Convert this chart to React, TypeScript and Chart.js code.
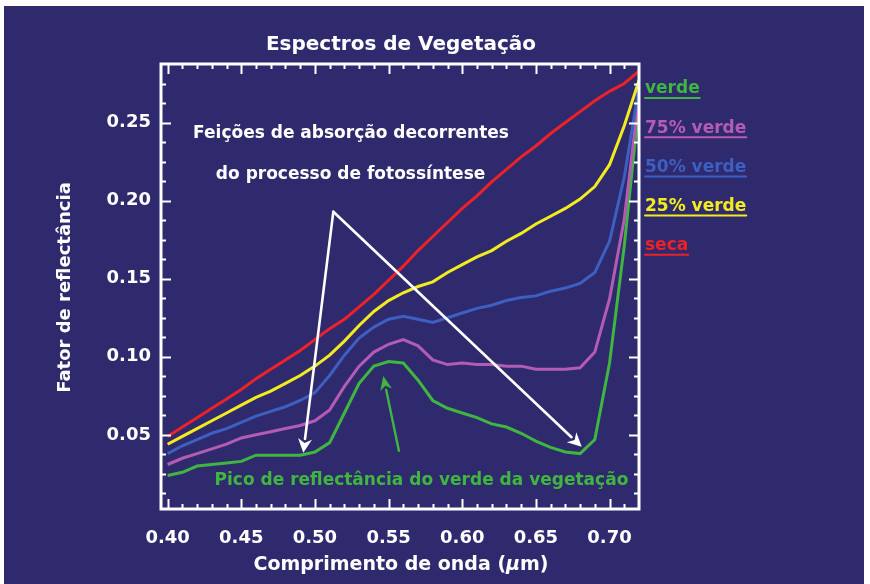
import React, { useEffect, useRef } from "react";
import { Chart, registerables } from "chart.js";

Chart.register(...registerables);

// ---- data ----
const wavelengths = [
  0.40, 0.41, 0.42, 0.43, 0.44, 0.45, 0.46, 0.47, 0.48, 0.49, 0.50,
  0.51, 0.52, 0.53, 0.54, 0.55, 0.56, 0.57, 0.58, 0.59, 0.60,
  0.61, 0.62, 0.63, 0.64, 0.65, 0.66, 0.67, 0.68, 0.69, 0.70, 0.71, 0.72,
];
const seca = [
  0.049, 0.055, 0.061, 0.067, 0.073, 0.079, 0.086, 0.092, 0.098, 0.104, 0.111,
  0.118, 0.124, 0.132, 0.140, 0.149, 0.158, 0.168, 0.177, 0.186, 0.195,
  0.203, 0.212, 0.220, 0.228, 0.235, 0.243, 0.250, 0.257, 0.264, 0.270, 0.275, 0.283,
];
const verde25 = [
  0.044, 0.049, 0.054, 0.059, 0.064, 0.069, 0.074, 0.078, 0.083, 0.088, 0.094,
  0.101, 0.110, 0.120, 0.129, 0.136, 0.141, 0.145, 0.148, 0.154, 0.159,
  0.164, 0.168, 0.174, 0.179, 0.185, 0.190, 0.195, 0.201, 0.209, 0.223, 0.248, 0.277,
];
const verde50 = [
  0.038, 0.043, 0.047, 0.051, 0.054, 0.058, 0.062, 0.065, 0.068, 0.072, 0.077,
  0.088, 0.101, 0.112, 0.119, 0.124, 0.126, 0.124, 0.122, 0.125, 0.128,
  0.131, 0.133, 0.136, 0.138, 0.139, 0.142, 0.144, 0.147, 0.154, 0.174, 0.215, 0.273,
];
const verde75 = [
  0.031, 0.035, 0.038, 0.041, 0.044, 0.048, 0.050, 0.052, 0.054, 0.056, 0.059,
  0.066, 0.081, 0.094, 0.103, 0.108, 0.111, 0.107, 0.098, 0.095, 0.096,
  0.095, 0.095, 0.094, 0.094, 0.092, 0.092, 0.092, 0.093, 0.103, 0.137, 0.188, 0.268,
];
const verde = [
  0.024, 0.026, 0.030, 0.031, 0.032, 0.033, 0.037, 0.037, 0.037, 0.037, 0.039,
  0.045, 0.064, 0.083, 0.094, 0.097, 0.096, 0.085, 0.072, 0.067, 0.064,
  0.061, 0.057, 0.055, 0.051, 0.046, 0.042, 0.039, 0.038, 0.047, 0.096, 0.171, 0.262,
];

const xTickValues = [0.40, 0.45, 0.50, 0.55, 0.60, 0.65, 0.70];
const yTickValues = [0.05, 0.10, 0.15, 0.20, 0.25];
const xMinorValues = [
  0.41, 0.42, 0.43, 0.44, 0.46, 0.47, 0.48, 0.49, 0.51, 0.52, 0.53, 0.54,
  0.56, 0.57, 0.58, 0.59, 0.61, 0.62, 0.63, 0.64, 0.66, 0.67, 0.68, 0.69, 0.71,
];
const yMinorValues = [
  0.0125, 0.025, 0.0375, 0.0625, 0.075, 0.0875, 0.1125, 0.125, 0.1375,
  0.1625, 0.175, 0.1875, 0.2125, 0.225, 0.2375, 0.2625, 0.275,
];

const seriesNames = ["seca", "25% verde", "50% verde", "75% verde", "verde"];
const seriesValues = [seca, verde25, verde50, verde75, verde];
const seriesColors = ["#ec2228", "#f2ec1e", "#3d5fc0", "#b45cb4", "#3fb63f"];

const legendOrder = ["verde", "75% verde", "50% verde", "25% verde", "seca"];

const TITLE = "Espectros de Vegetação";
const X_TITLE_PARTS = ["Comprimento de onda (", "\u03bc", "m)"];
const Y_TITLE = "Fator de reflectância";
const NOTE_ABSORPTION = ["Feições de absorção decorrentes", "do processo de fotossíntese"];
const NOTE_PEAK = "Pico de reflectância do verde da vegetação";

// annotation anchors in data units
const absorptionApex = { x: 0.5125, y: 0.1929 };
const absorptionTips = [
  { x: 0.4921, y: 0.0385 },
  { x: 0.6811, y: 0.0423 },
];
const peakArrow = { from: { x: 0.557, y: 0.0398 }, to: { x: 0.5464, y: 0.0876 } };
const noteAbsorptionPos = [
  { x: 0.5245, y: 0.2427 },
  { x: 0.5242, y: 0.2164 },
];
const notePeakPos = { x: 0.5723, y: 0.021 };

const NAVY = "rgb(47,42,110)";
const FONT = "'DejaVu Sans', Verdana, sans-serif";

function arrow(ctx: CanvasRenderingContext2D, x1: number, y1: number, x2: number, y2: number, color: string, lw: number, hl: number, hw: number) {
  const ang = Math.atan2(y2 - y1, x2 - x1);
  const bx = x2 - Math.cos(ang) * hl;
  const by = y2 - Math.sin(ang) * hl;
  ctx.strokeStyle = color;
  ctx.fillStyle = color;
  ctx.lineWidth = lw;
  ctx.lineCap = "round";
  ctx.beginPath();
  ctx.moveTo(x1, y1);
  ctx.lineTo(bx, by);
  ctx.stroke();
  ctx.beginPath();
  ctx.moveTo(x2, y2);
  ctx.lineTo(bx + Math.cos(ang + Math.PI / 2) * hw, by + Math.sin(ang + Math.PI / 2) * hw);
  ctx.lineTo(bx + Math.cos(ang) * hl * 0.3, by + Math.sin(ang) * hl * 0.3);
  ctx.lineTo(bx + Math.cos(ang - Math.PI / 2) * hw, by + Math.sin(ang - Math.PI / 2) * hw);
  ctx.closePath();
  ctx.fill();
}

const decorPlugin = {
  id: "decor",
  beforeDraw(chart: any) {
    const { ctx, width, height } = chart;
    ctx.save();
    ctx.fillStyle = "#ffffff";
    ctx.fillRect(0, 0, width, height);
    ctx.fillStyle = NAVY;
    ctx.fillRect(4, 6, width - 10, height - 6);
    ctx.restore();
  },
  afterDatasetsDraw(chart: any) {
    const { ctx, chartArea } = chart;
    const xs = chart.scales.x;
    const ys = chart.scales.y;
    const { left, right, top, bottom } = chartArea;
    ctx.save();

    // frame
    ctx.strokeStyle = "#ffffff";
    ctx.lineWidth = 3;
    ctx.strokeRect(left, top, right - left, bottom - top);

    // ticks on all sides, inward
    ctx.lineWidth = 2;
    ctx.beginPath();
    const tick = (vals: number[], len: number) => {
      vals.forEach((v) => {
        const px = Math.round(xs.getPixelForValue(v)) + 0.5;
        ctx.moveTo(px, bottom);
        ctx.lineTo(px, bottom - len);
        ctx.moveTo(px, top);
        ctx.lineTo(px, top + len);
      });
    };
    const ytick = (vals: number[], len: number) => {
      vals.forEach((v) => {
        const py = Math.round(ys.getPixelForValue(v)) + 0.5;
        ctx.moveTo(left, py);
        ctx.lineTo(left + len, py);
        ctx.moveTo(right, py);
        ctx.lineTo(right - len, py);
      });
    };
    tick(xTickValues, 10);
    tick(xMinorValues, 5);
    ytick(yTickValues, 10);
    ytick(yMinorValues, 5);
    ctx.stroke();

    // arrows
    const ax = xs.getPixelForValue(absorptionApex.x);
    const ay = ys.getPixelForValue(absorptionApex.y);
    absorptionTips.forEach((t) => {
      arrow(ctx, ax, ay, xs.getPixelForValue(t.x), ys.getPixelForValue(t.y), "#ffffff", 2.6, 14, 7);
    });
    arrow(
      ctx,
      xs.getPixelForValue(peakArrow.from.x),
      ys.getPixelForValue(peakArrow.from.y),
      xs.getPixelForValue(peakArrow.to.x),
      ys.getPixelForValue(peakArrow.to.y),
      seriesColors[4],
      2.4,
      14,
      6
    );

    // notes
    ctx.textAlign = "center";
    ctx.textBaseline = "middle";
    ctx.font = `bold 17px ${FONT}`;
    ctx.fillStyle = "#ffffff";
    NOTE_ABSORPTION.forEach((t, i) => {
      ctx.fillText(t, xs.getPixelForValue(noteAbsorptionPos[i].x), ys.getPixelForValue(noteAbsorptionPos[i].y));
    });
    ctx.fillStyle = seriesColors[4];
    ctx.fillText(NOTE_PEAK, xs.getPixelForValue(notePeakPos.x), ys.getPixelForValue(notePeakPos.y));

    // legend labels on the right
    ctx.textAlign = "left";
    ctx.font = `bold 17px ${FONT}`;
    legendOrder.forEach((name, i) => {
      const idx = seriesNames.indexOf(name);
      const color = seriesColors[idx];
      const y = 89 + i * 39.2;
      const x = right + 6;
      ctx.fillStyle = color;
      ctx.fillText(name, x, y);
      const w = ctx.measureText(name).width;
      ctx.strokeStyle = color;
      ctx.lineWidth = 2;
      ctx.beginPath();
      ctx.moveTo(x, y + 9);
      ctx.lineTo(x + w, y + 9);
      ctx.stroke();
    });

    // title
    ctx.fillStyle = "#ffffff";
    ctx.textAlign = "center";
    ctx.font = `bold 20px ${FONT}`;
    ctx.fillText(TITLE, (left + right) / 2 + 1, 45);

    // x title with italic mu
    const fontsX = [`bold 19px ${FONT}`, `italic bold 19px ${FONT}`, `bold 19px ${FONT}`];
    const widths = X_TITLE_PARTS.map((p, i) => {
      ctx.font = fontsX[i];
      return ctx.measureText(p).width;
    });
    const total = widths.reduce((a, b) => a + b, 0);
    let cx = (left + right) / 2 + 1 - total / 2;
    ctx.textAlign = "left";
    X_TITLE_PARTS.forEach((p, i) => {
      ctx.font = fontsX[i];
      ctx.fillText(p, cx, 565);
      cx += widths[i];
    });

    // y title
    ctx.save();
    ctx.translate(65, (top + bottom) / 2 + 1);
    ctx.rotate(-Math.PI / 2);
    ctx.textAlign = "center";
    ctx.font = `bold 18px ${FONT}`;
    ctx.fillText(Y_TITLE, 0, 0);
    ctx.restore();

    ctx.restore();
  },
};

export default function App() {
  const canvasRef = useRef<HTMLCanvasElement | null>(null);

  useEffect(() => {
    const canvas = canvasRef.current;
    if (!canvas) return;
    const chart = new Chart(canvas, {
      type: "line",
      data: {
        datasets: seriesNames.map((name, i) => ({
          label: name,
          data: wavelengths.map((w, j) => ({ x: w, y: seriesValues[i][j] })),
          borderColor: seriesColors[i],
          backgroundColor: seriesColors[i],
          borderWidth: 3,
          pointRadius: 0,
          tension: 0,
          fill: false,
        })),
      },
      options: {
        animation: false,
        responsive: false,
        devicePixelRatio: 1,
        layout: { padding: { left: 0, top: 64, right: 231, bottom: 0 } },
        plugins: {
          legend: { display: false },
          title: { display: false },
          tooltip: { enabled: false },
        },
        scales: {
          x: {
            type: "linear",
            min: 0.3955,
            max: 0.72,
            grid: { display: false, drawTicks: false },
            border: { display: false },
            afterBuildTicks: (scale: any) => {
              scale.ticks = xTickValues.map((v) => ({ value: v }));
            },
            afterFit: (scale: any) => {
              scale.height = 75;
            },
            ticks: {
              color: "#ffffff",
              padding: 19,
              maxRotation: 0,
              autoSkip: false,
              font: { family: FONT, size: 18, weight: "bold" },
              callback: (v: any) => Number(v).toFixed(2),
            },
          },
          y: {
            type: "linear",
            min: 0.0025,
            max: 0.2875,
            grid: { display: false, drawTicks: false },
            border: { display: false },
            afterBuildTicks: (scale: any) => {
              scale.ticks = yTickValues.map((v) => ({ value: v }));
            },
            afterFit: (scale: any) => {
              scale.width = 161;
            },
            ticks: {
              color: "#ffffff",
              padding: 10,
              autoSkip: false,
              font: { family: FONT, size: 18, weight: "bold" },
              callback: (v: any) => Number(v).toFixed(2),
            },
          },
        },
      },
      plugins: [decorPlugin],
    } as any);
    return () => chart.destroy();
  }, []);

  return (
    <div style={{ position: "fixed", left: 0, top: 0, width: 870, height: 584 }}>
      <canvas ref={canvasRef} width={870} height={584} style={{ width: 870, height: 584, display: "block" }} />
    </div>
  );
}
